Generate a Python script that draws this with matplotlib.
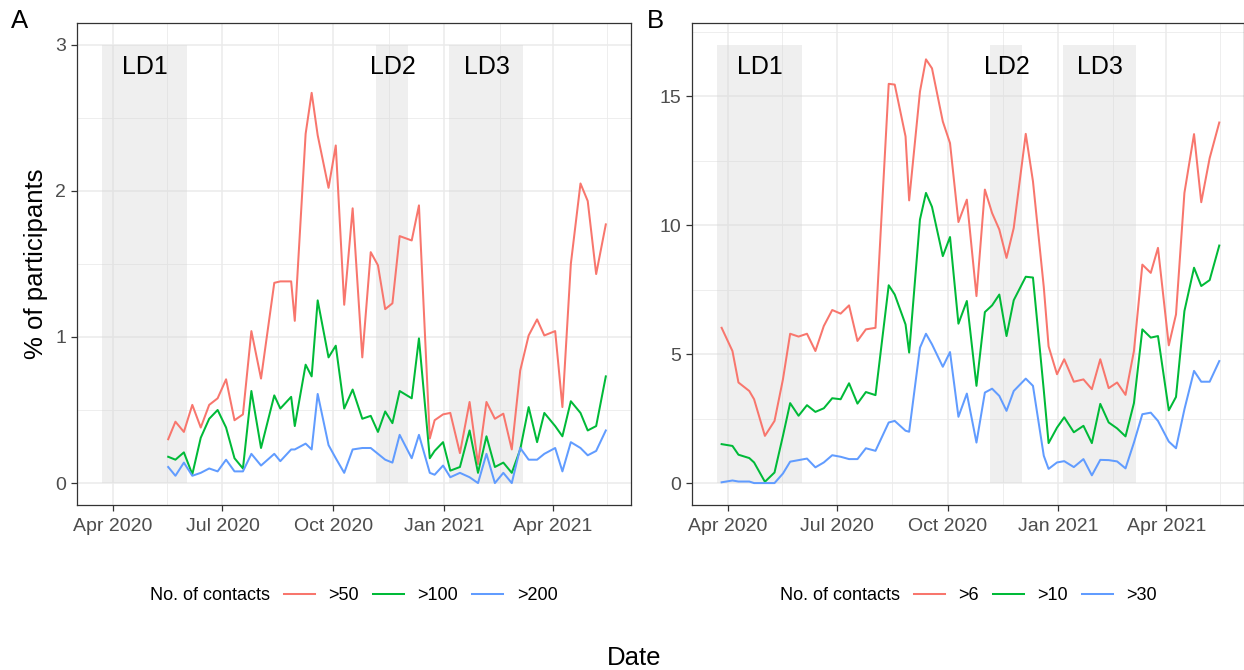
import numpy as np
import matplotlib
matplotlib.use("Agg")
import matplotlib.pyplot as plt
import matplotlib.dates as mdates
from matplotlib.lines import Line2D

plt.rcParams["font.family"] = ["Liberation Sans", "DejaVu Sans"]

# survey dates (shared by both panels, panel A starts at index 7)
dates = np.array([
    "2020-03-27", "2020-04-05", "2020-04-10", "2020-04-19", "2020-04-23",
    "2020-05-02", "2020-05-10", "2020-05-17", "2020-05-23", "2020-05-30",
    "2020-06-06", "2020-06-13", "2020-06-20", "2020-06-27", "2020-07-04",
    "2020-07-11", "2020-07-18", "2020-07-25", "2020-08-02", "2020-08-13",
    "2020-08-18", "2020-08-27", "2020-08-30", "2020-09-08", "2020-09-13",
    "2020-09-18", "2020-09-27", "2020-10-03", "2020-10-10", "2020-10-17",
    "2020-10-25", "2020-11-01", "2020-11-07", "2020-11-13", "2020-11-19",
    "2020-11-25", "2020-12-05", "2020-12-11", "2020-12-20", "2020-12-24",
    "2020-12-31", "2021-01-06", "2021-01-14", "2021-01-22", "2021-01-29",
    "2021-02-05", "2021-02-12", "2021-02-19", "2021-02-26", "2021-03-05",
    "2021-03-12", "2021-03-19", "2021-03-25", "2021-04-03", "2021-04-09",
    "2021-04-16", "2021-04-24", "2021-04-30", "2021-05-07", "2021-05-15",
], dtype="datetime64[D]")
a_start = 7

# panel A: % of participants with >50, >100, >200 contacts
a_gt50 = [0.30, 0.42, 0.35, 0.535, 0.38, 0.535, 0.58, 0.71, 0.43, 0.47,
          1.04, 0.715, 1.37, 1.38, 1.38, 1.11, 2.39, 2.67, 2.38, 2.02,
          2.31, 1.22, 1.88, 0.86, 1.58, 1.49, 1.19, 1.23, 1.69, 1.66,
          1.90, 0.305, 0.43, 0.47, 0.48, 0.205, 0.555, 0.13, 0.555, 0.44,
          0.475, 0.23, 0.77, 1.01, 1.12, 1.01, 1.04, 0.52, 1.50, 2.05,
          1.93, 1.43, 1.77]
a_gt100 = [0.18, 0.16, 0.21, 0.06, 0.31, 0.44, 0.50, 0.38, 0.17, 0.10,
           0.63, 0.24, 0.60, 0.51, 0.59, 0.39, 0.81, 0.73, 1.25, 0.86,
           0.94, 0.51, 0.64, 0.44, 0.46, 0.35, 0.49, 0.41, 0.63, 0.58,
           0.99, 0.17, 0.22, 0.28, 0.085, 0.11, 0.36, 0.07, 0.32, 0.11,
           0.14, 0.07, 0.23, 0.52, 0.28, 0.48, 0.39, 0.32, 0.56, 0.48,
           0.36, 0.39, 0.73]
a_gt200 = [0.11, 0.05, 0.14, 0.05, 0.07, 0.10, 0.08, 0.16, 0.08, 0.08,
           0.20, 0.12, 0.20, 0.15, 0.23, 0.23, 0.27, 0.23, 0.61, 0.26,
           0.17, 0.07, 0.23, 0.24, 0.24, 0.20, 0.16, 0.14, 0.33, 0.17,
           0.33, 0.07, 0.057, 0.12, 0.04, 0.07, 0.04, 0.0, 0.20, 0.0,
           0.07, 0.0, 0.24, 0.16, 0.16, 0.20, 0.24, 0.08, 0.28, 0.24,
           0.19, 0.22, 0.36]

# panel B: % of participants with >6, >10, >30 contacts
b_gt6 = [6.02, 5.12, 3.90, 3.57, 3.25, 1.83, 2.41, 4.02, 5.79, 5.68,
         5.79, 5.12, 6.09, 6.71, 6.57, 6.89, 5.51, 5.96, 6.02, 15.48,
         15.45, 13.44, 10.96, 15.18, 16.43, 16.08, 14.02, 13.18, 10.12, 10.99,
         7.25, 11.38, 10.47, 9.83, 8.73, 9.89, 13.54, 11.70, 7.60, 5.30,
         4.22, 4.80, 3.93, 4.02, 3.64, 4.80, 3.68, 3.90, 3.42, 5.12,
         8.47, 8.15, 9.12, 5.34, 6.54, 11.25, 13.53, 10.89, 12.60, 13.98]
b_gt10 = [1.51, 1.44, 1.10, 0.97, 0.80, 0.05, 0.41, 1.83, 3.10, 2.61,
          3.02, 2.76, 2.90, 3.29, 3.25, 3.87, 3.08, 3.53, 3.41, 7.67,
          7.31, 6.15, 5.06, 10.22, 11.25, 10.71, 8.80, 9.54, 6.18, 7.06,
          3.77, 6.63, 6.89, 7.31, 5.70, 7.09, 8.00, 7.97, 3.60, 1.55,
          2.15, 2.55, 1.97, 2.22, 1.55, 3.07, 2.35, 2.12, 1.81, 3.10,
          5.96, 5.64, 5.70, 2.82, 3.34, 6.67, 8.35, 7.64, 7.87, 9.21]
b_gt30 = [0.03, 0.10, 0.06, 0.06, 0.0, 0.0, 0.0, 0.37, 0.83, 0.89,
          0.95, 0.61, 0.80, 1.08, 1.02, 0.93, 0.93, 1.35, 1.25, 2.35,
          2.41, 2.03, 1.99, 5.25, 5.79, 5.38, 4.51, 5.08, 2.57, 3.47,
          1.57, 3.51, 3.66, 3.38, 2.80, 3.57, 4.05, 3.77, 1.06, 0.55,
          0.80, 0.85, 0.62, 0.93, 0.30, 0.90, 0.89, 0.84, 0.57, 1.57,
          2.67, 2.73, 2.41, 1.61, 1.35, 2.86, 4.35, 3.93, 3.93, 4.73]

lockdown_names = ["LD1", "LD2", "LD3"]
lockdown_start = np.array(["2020-03-23", "2020-11-05", "2021-01-05"], dtype="datetime64[D]")
lockdown_end = np.array(["2020-06-02", "2020-12-02", "2021-03-07"], dtype="datetime64[D]")

colors = ["#F8766D", "#00BA38", "#619CFF"]
labels_a = [">50", ">100", ">200"]
labels_b = [">6", ">10", ">30"]

W, H = 1244, 670
fig = plt.figure(figsize=(W / 100, H / 100), dpi=100)


def px_box(left, top, right, bottom):
    return [left / W, 1 - bottom / H, (right - left) / W, (bottom - top) / H]


axA = fig.add_axes(px_box(76.7, 22.7, 631, 505))
axB = fig.add_axes(px_box(691.7, 22.7, 1244.4, 505))

x_lo = mdates.date2num(lockdown_start[0])
x_hi = mdates.date2num(dates[-1])
span = x_hi - x_lo


def draw_panel(ax, x, series, major, minor):
    top = np.ceil(max(max(s) for s in series))
    for name, s, e in zip(lockdown_names, lockdown_start, lockdown_end):
        ax.fill_between([s, e], 0, top, color="#d6d6d6", alpha=0.38, lw=0, zorder=1)
        ax.text(s + (e - s) // 2 + 1, 0.95 * top, name, ha="center", va="center",
                fontsize=18, color="black", zorder=4)
    for vals, col in zip(series, colors):
        ax.plot(x, vals, color=col, lw=1.45, zorder=3)

    ax.set_xlim(x_lo - 0.05 * span, x_hi + 0.05 * span)
    ax.set_ylim(-0.05 * top, 1.05 * top)
    ax.set_yticks(major)
    ax.set_yticks(minor, minor=True)
    ax.xaxis.set_major_locator(mdates.MonthLocator(bymonth=[1, 4, 7, 10]))
    ax.xaxis.set_major_formatter(mdates.DateFormatter("%b %Y"))
    ax.xaxis.set_minor_locator(mdates.MonthLocator(bymonth=[2, 5, 8, 11], bymonthday=16))

    ax.set_axisbelow(True)
    ax.grid(True, which="major", color="#EBEBEB", lw=1.1)
    ax.grid(True, which="minor", color="#EBEBEB", lw=0.6)
    ax.tick_params(which="major", length=4.2, width=0.9, color="#333333",
                   labelcolor="#4D4D4D", labelsize=14)
    ax.tick_params(axis="x", which="major", pad=5)
    ax.tick_params(axis="y", which="major", pad=3.5)
    ax.tick_params(which="minor", length=0)
    for sp in ax.spines.values():
        sp.set_color("#333333")
        sp.set_linewidth(0.9)


draw_panel(axA, dates[a_start:], [a_gt50, a_gt100, a_gt200], [0, 1, 2, 3], [0.5, 1.5, 2.5])
draw_panel(axB, dates, [b_gt6, b_gt10, b_gt30], [0, 5, 10, 15], [2.5, 7.5, 12.5, 17.5])

axA.set_ylabel("% of participants", fontsize=18.5, labelpad=5)
fig.text(20 / W, 1 - 21 / H, "A", fontsize=18.5, ha="center", va="center")
fig.text(655 / W, 1 - 21 / H, "B", fontsize=18.5, ha="center", va="center")
fig.text(634 / W, 1 - 658 / H, "Date", fontsize=18.5, ha="center", va="center")

# legends: invisible first handle carries the title on the left
for labels, cx in [(labels_a, 353.5), (labels_b, 968)]:
    handles = [Line2D([], [], color="none")]
    handles += [Line2D([], [], color=c, lw=1.45) for c in colors]
    fig.legend(handles, ["No. of contacts"] + labels, loc="center",
               bbox_to_anchor=((cx - 22) / W, 1 - 596 / H), ncol=4, frameon=False,
               fontsize=13, handlelength=1.72, handletextpad=0.74,
               columnspacing=0.78, borderpad=0, borderaxespad=0)

fig.savefig("out.png", dpi=100)
